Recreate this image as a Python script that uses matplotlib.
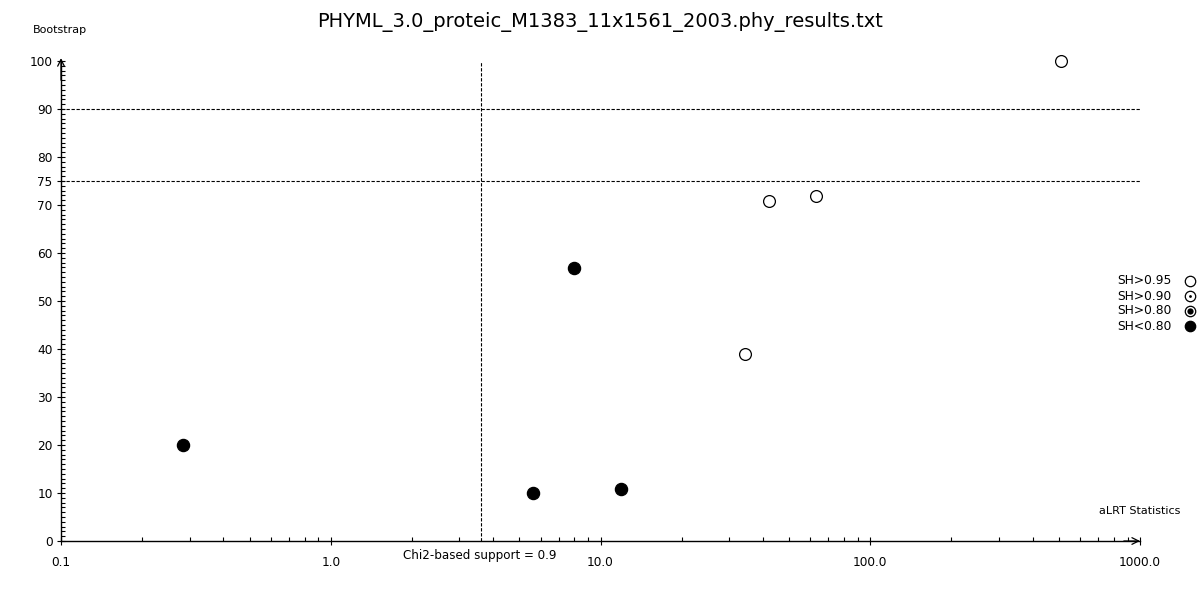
import matplotlib
matplotlib.use("Agg")
import matplotlib.pyplot as plt
from matplotlib.ticker import FixedLocator, LogLocator, MultipleLocator, NullFormatter

# values
alrt = [509, 42.1, 62.9, 34.3, 7.98, 0.283, 5.62, 11.9]
bootstrap = [100, 70.8, 71.9, 39.0, 56.9, 20.0, 10.0, 10.8]
sh_class = ["SH>0.95", "SH>0.95", "SH>0.95", "SH>0.95",
            "SH<0.80", "SH<0.80", "SH<0.80", "SH<0.80"]

chi2_threshold = 3.6
bootstrap_lines = [90, 75]
y_ticks = [0, 10, 20, 30, 40, 50, 60, 70, 75, 80, 90, 100]
x_ticks = [0.1, 1.0, 10.0, 100.0, 1000.0]
x_tick_labels = ["0.1", "1.0", "10.0", "100.0", "1000.0"]
legend_labels = ["SH>0.95", "SH>0.90", "SH>0.80", "SH<0.80"]

title = "PHYML_3.0_proteic_M1383_11x1561_2003.phy_results.txt"

plt.rcParams['font.family'] = ['DejaVu Sans']

fig = plt.figure(figsize=(12, 6), dpi=100)
ax = fig.add_axes([61 / 1200, 59 / 600, 1079 / 1200, 480 / 600])

ax.set_xscale('log')
ax.set_xlim(0.1, 1000)
ax.set_ylim(0, 100)

for sp in ['top', 'right']:
    ax.spines[sp].set_visible(False)
for sp in ['left', 'bottom']:
    ax.spines[sp].set_linewidth(1.0)

# arrow heads on the axes
ax.annotate('', xy=(1.0, 0), xycoords='axes fraction', xytext=(0.985, 0),
            arrowprops=dict(arrowstyle='->', lw=0.9, color='black',
                            shrinkA=0, shrinkB=0, mutation_scale=12))
ax.annotate('', xy=(0, 1.006), xycoords='axes fraction', xytext=(0, 0.96),
            arrowprops=dict(arrowstyle='->', lw=0.9, color='black',
                            shrinkA=0, shrinkB=0, mutation_scale=12))

# threshold lines
dash = (0, (3, 1.5))
for b in bootstrap_lines:
    ax.plot([0.1, 1000], [b, b], color='black', lw=0.8, linestyle=dash)
ax.plot([chi2_threshold, chi2_threshold], [0, 100], color='black', lw=0.8, linestyle=dash)

# points
for x, y, c in zip(alrt, bootstrap, sh_class):
    if c == "SH>0.95":
        ax.plot(x, y, 'o', ms=8.5, mfc='white', mec='black', mew=0.9, clip_on=False, zorder=5)
    else:
        ax.plot(x, y, 'o', ms=8.8, mfc='black', mec='black', mew=0.9, clip_on=False, zorder=5)

# ticks
ax.yaxis.set_major_locator(FixedLocator(y_ticks))
ax.yaxis.set_minor_locator(MultipleLocator(1))
ax.set_yticklabels([str(t) for t in y_ticks])
ax.tick_params(axis='y', which='major', direction='inout', length=6, width=0.8,
               labelsize=8.7, pad=3)
ax.tick_params(axis='y', which='minor', direction='in', length=3, width=0.8)

ax.xaxis.set_major_locator(FixedLocator(x_ticks))
ax.set_xticklabels(x_tick_labels)
ax.xaxis.set_minor_locator(LogLocator(base=10, subs=range(2, 10)))
ax.xaxis.set_minor_formatter(NullFormatter())
ax.tick_params(axis='x', which='major', direction='inout', length=6, width=0.8,
               labelsize=8.7, pad=8)
ax.tick_params(axis='x', which='minor', direction='in', length=3, width=0.8)

# texts
fig.text(0.5, 1 - 22 / 600, title, ha='center', va='center', fontsize=14)
fig.text(33 / 1200, 1 - 30 / 600, "Bootstrap", ha='left', va='center', fontsize=8)
fig.text(1180 / 1200, 1 - 511 / 600, "aLRT Statistics", ha='right', va='center', fontsize=8)
fig.text(480 / 1200, 1 - 555 / 600, "Chi2-based support = 0.9", ha='center', va='center', fontsize=8.6)

# legend drawn by hand on the right
leg_y = [281, 296, 311, 326]
inner = [0, 2.0, 4.5, 10]
for lab, py, d in zip(legend_labels, leg_y, inner):
    fy = 1 - py / 600
    fig.text(1172 / 1200, fy, lab, ha='right', va='center', fontsize=8.8)
    fc = 'black' if d >= 10 else 'white'
    fig.add_artist(plt.Line2D([1190 / 1200], [fy], marker='o', ms=7.5, mfc=fc,
                              mec='black', mew=0.9, transform=fig.transFigure))
    if 0 < d < 10:
        fig.add_artist(plt.Line2D([1190 / 1200], [fy], marker='o', ms=d, mfc='black',
                                  mec='black', mew=0, transform=fig.transFigure))

fig.savefig("out.png", dpi=100)
